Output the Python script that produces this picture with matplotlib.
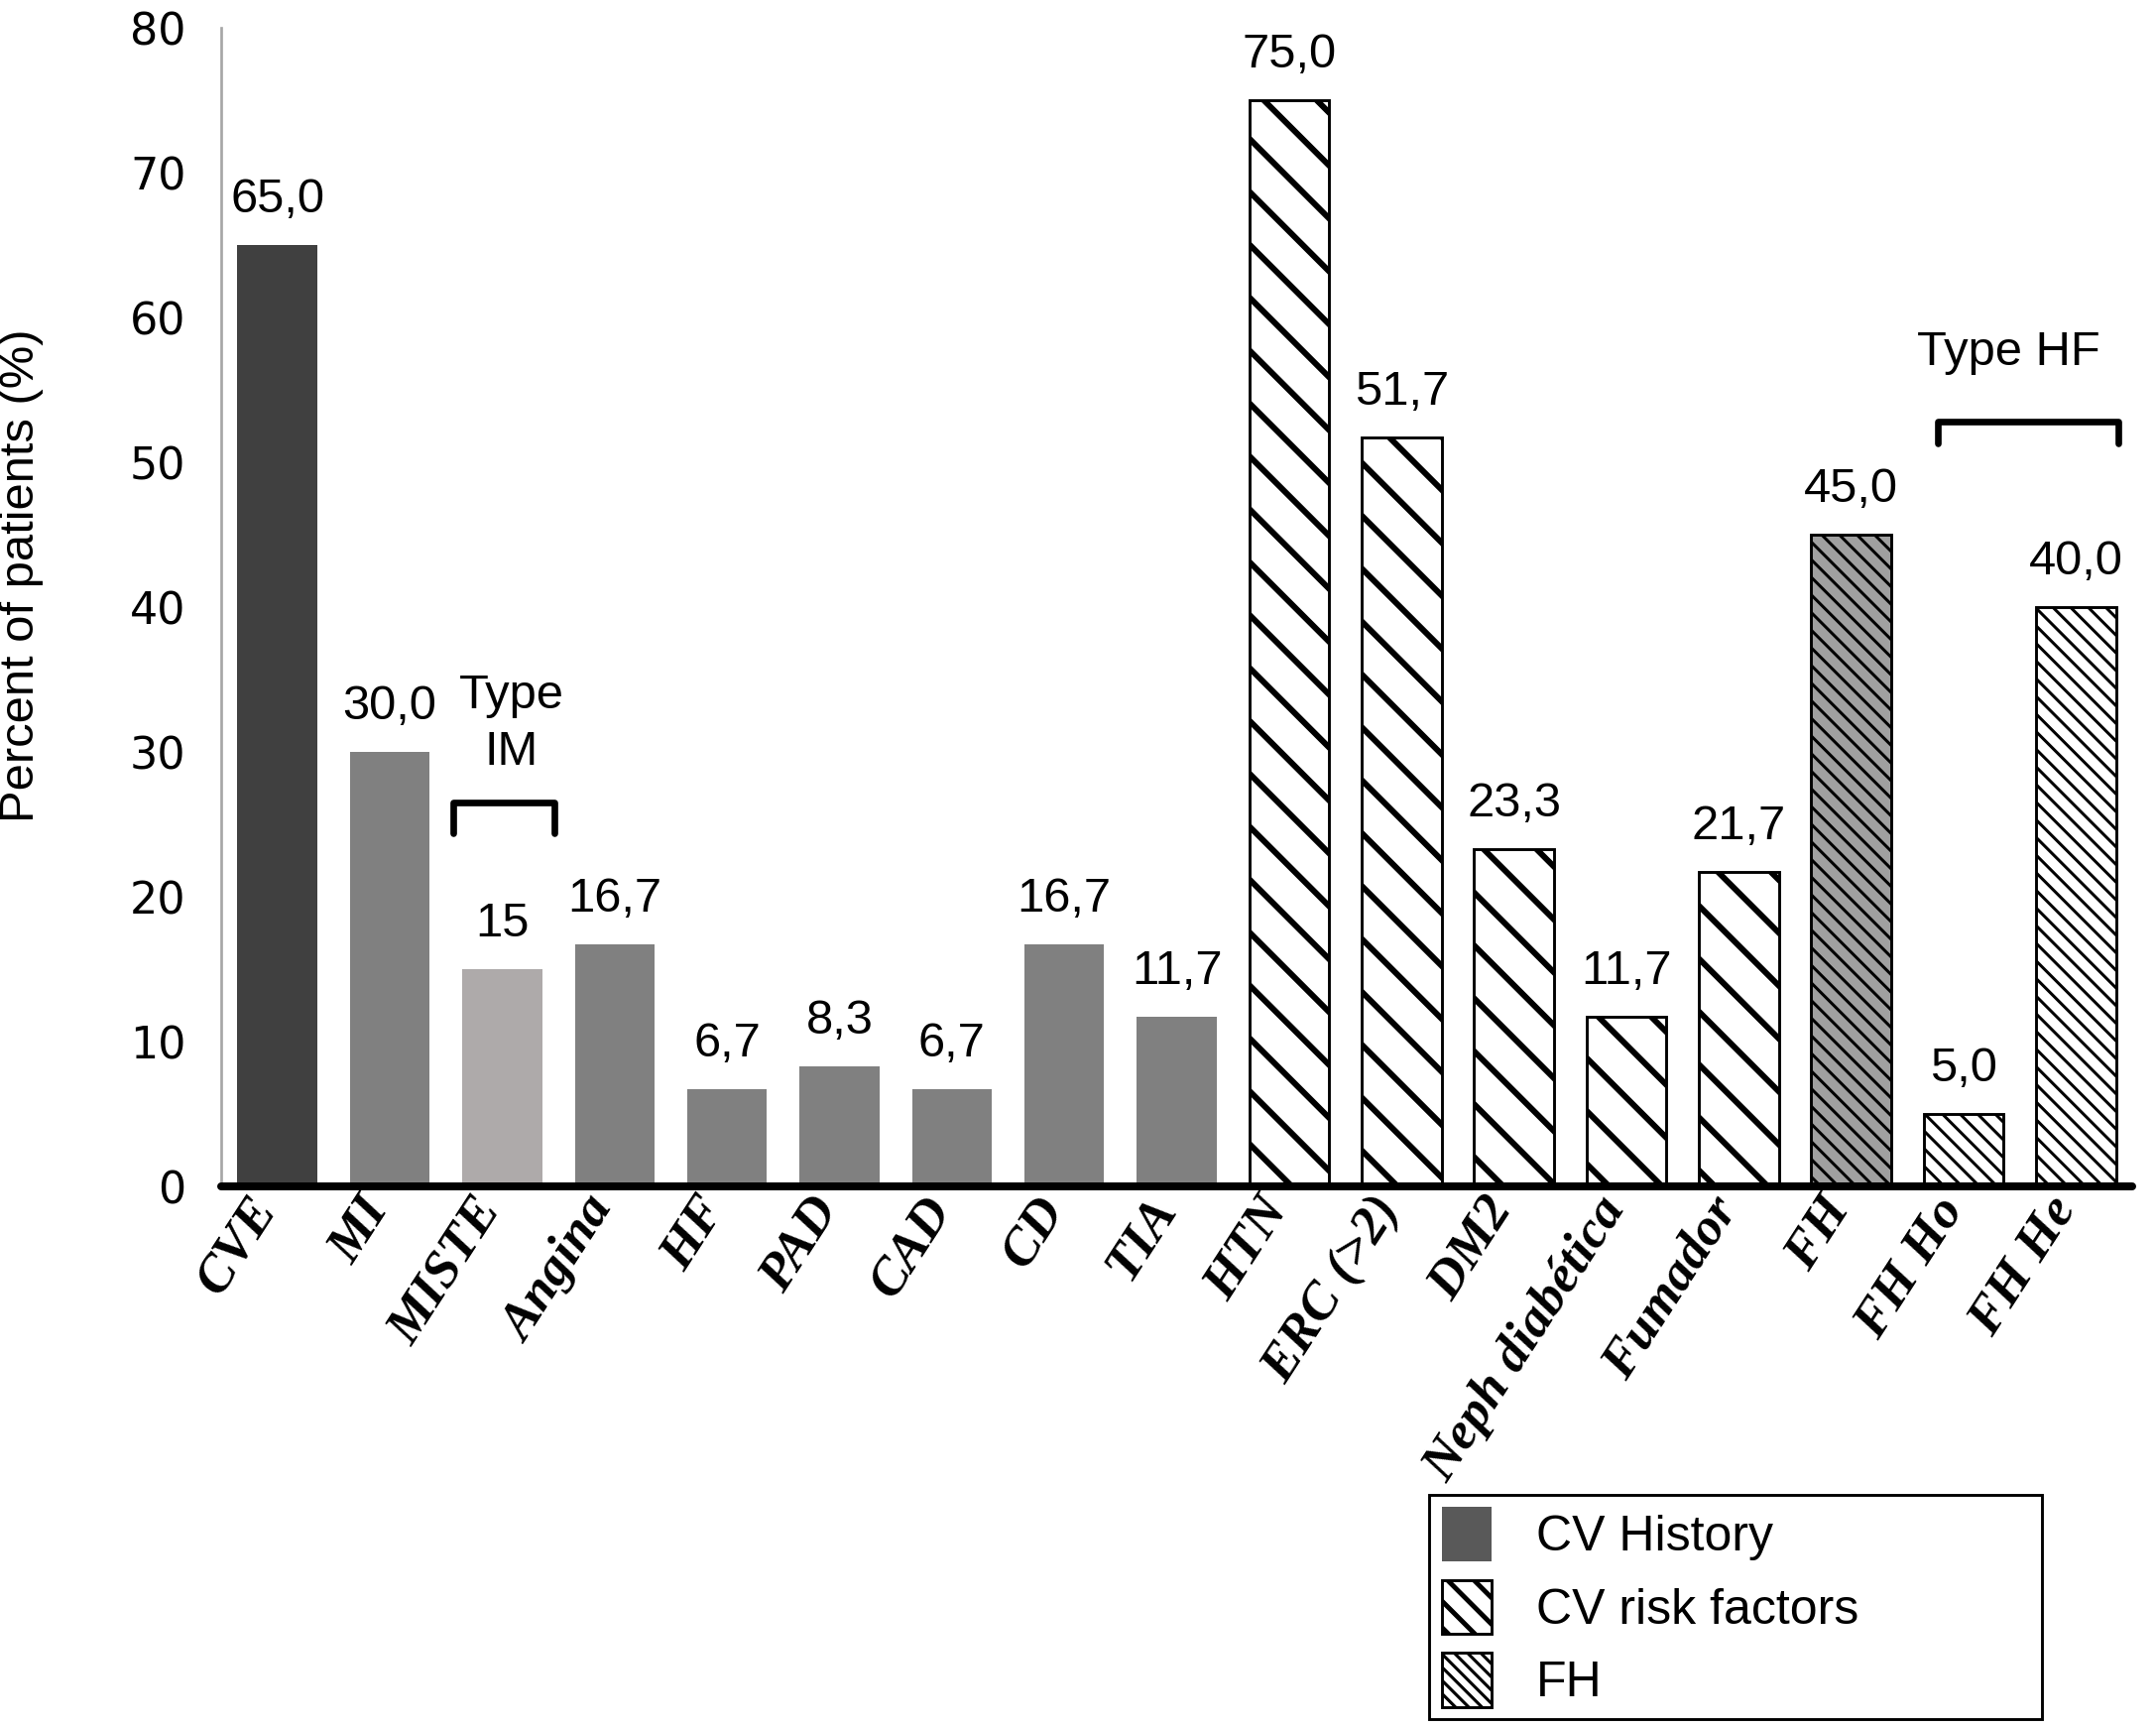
import matplotlib.pyplot as plt
from matplotlib.patches import Patch
from matplotlib.transforms import ScaledTranslation

# values
categories = ["CVE", "MI", "MISTE", "Angina", "HF", "PAD", "CAD", "CD", "TIA",
              "HTN", "ERC (>2)", "DM2", "Neph diabética", "Fumador",
              "FH", "FH Ho", "FH He"]
values = [65.0, 30.0, 15.0, 16.7, 6.7, 8.3, 6.7, 16.7, 11.7,
          75.0, 51.7, 23.3, 11.7, 21.7,
          45.0, 5.0, 40.0]
value_labels = ["65,0", "30,0", "15", "16,7", "6,7", "8,3", "6,7", "16,7", "11,7",
                "75,0", "51,7", "23,3", "11,7", "21,7",
                "45,0", "5,0", "40,0"]
groups = ["history"] * 9 + ["risk"] * 5 + ["fh"] * 3
legend_labels = ["CV History", "CV risk factors", "FH"]
y_ticks = [0, 10, 20, 30, 40, 50, 60, 70, 80]

DPI = 160
plt.rcParams["hatch.linewidth"] = 1.3
fig = plt.figure(figsize=(2174 / DPI, 1742 / DPI), dpi=DPI)
ax = fig.add_axes([0.1026, 0.3134, 0.8864, 0.6705])


def bar_style(i, group):
    if group == "history":
        if i == 0:
            return dict(color="#404040")
        if categories[i] == "MISTE":
            return dict(color="#aeaaaa")
        return dict(color="#808080")
    if group == "risk":
        return dict(facecolor="white", edgecolor="black", hatch="\\", linewidth=1.3)
    if categories[i] == "FH":
        return dict(facecolor="#a0a0a0", edgecolor="black", hatch="\\\\\\", linewidth=1.3)
    return dict(facecolor="white", edgecolor="black", hatch="\\\\\\", linewidth=1.3)


def hatch_width(artist, lw):
    # depending on the version the hatch width is taken at creation or at draw
    if hasattr(artist, "set_hatch_linewidth"):
        artist.set_hatch_linewidth(lw)
    orig = artist.draw

    def draw(renderer):
        with plt.rc_context({"hatch.linewidth": lw}):
            orig(renderer)
    artist.draw = draw


for i, (v, g) in enumerate(zip(values, groups)):
    lw = 2.7 if g == "risk" else 1.35
    with plt.rc_context({"hatch.linewidth": lw}):
        bars = ax.bar(i, v, width=0.71, zorder=2, **bar_style(i, g))
    for b in bars:
        hatch_width(b, lw)

for i, (v, lbl) in enumerate(zip(values, value_labels)):
    ax.annotate(lbl, (i, v), xytext=(0, 15), textcoords="offset points",
                ha="center", va="baseline", fontsize=22, family="Liberation Sans")

# group brackets
ax.plot([1.56, 1.56, 2.46, 2.46], [24.4, 26.5, 26.5, 24.4], color="black", lw=3,
        solid_capstyle="round", solid_joinstyle="round", zorder=3)
ax.text(2.08, 31.9, "Type\nIM", ha="center", va="center", fontsize=22,
        family="Liberation Sans", linespacing=1.35)
ax.plot([14.77, 14.77, 16.38, 16.38], [51.3, 52.8, 52.8, 51.3], color="black", lw=3,
        solid_capstyle="round", solid_joinstyle="round", zorder=3)
ax.text(15.4, 57.6, "Type HF", ha="center", va="center", fontsize=22,
        family="Liberation Sans")

ax.set_xlim(-0.5, 16.5)
ax.set_ylim(0, 80)
ax.set_yticks(y_ticks)
ax.set_yticklabels([str(t) for t in y_ticks], fontsize=20, family="DejaVu Sans")
ax.tick_params(axis="y", length=0, pad=16)
ax.set_xticks(range(len(categories)))
ax.set_xticklabels(categories, rotation=57, ha="right", va="top", fontsize=24,
                   family="Liberation Serif", fontweight="bold", fontstyle="italic")
ax.tick_params(axis="x", length=0, pad=1)
shift = ScaledTranslation(4 / 72, 0, fig.dpi_scale_trans)
for t in ax.get_xticklabels():
    t.set_transform(t.get_transform() + shift)

ax.set_ylabel("Percent of patients (%)", fontsize=22, family="Liberation Sans")
ax.yaxis.set_label_coords(-0.093, 0.527)

for s in ["top", "right"]:
    ax.spines[s].set_visible(False)
ax.spines["left"].set_color("#a6a6a6")
ax.spines["left"].set_linewidth(1.2)
ax.spines["bottom"].set_color("black")
ax.spines["bottom"].set_linewidth(3.6)
ax.spines["bottom"].set_capstyle("round")
ax.spines["bottom"].set_zorder(4)

handles = [Patch(facecolor="#595959", edgecolor="none"),
           Patch(facecolor="white", edgecolor="black", hatch="\\\\", linewidth=1.3),
           Patch(facecolor="white", edgecolor="black", hatch="\\\\\\\\", linewidth=1.3)]
leg = fig.legend(handles, legend_labels, loc="lower left",
                 bbox_to_anchor=(0.663, 0.005, 0.284, 0.131), mode="expand",
                 prop={"family": "Liberation Sans", "size": 22.5},
                 fancybox=False, framealpha=1, edgecolor="black",
                 borderpad=0.25, labelspacing=0.38, handlelength=1.0,
                 handleheight=1.3, handletextpad=0.9, borderaxespad=0)
leg.get_frame().set_linewidth(1.3)
leg_patches = leg.get_patches()
hatch_width(leg_patches[1], 2.2)
hatch_width(leg_patches[2], 1.4)

fig.savefig("out.png", dpi=DPI)
